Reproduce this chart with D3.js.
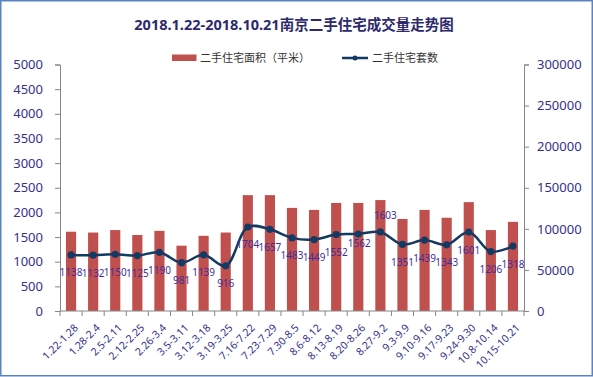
<!DOCTYPE html>
<html>
<head>
<meta charset="utf-8">
<script src="https://cdn.jsdelivr.net/npm/d3@7/dist/d3.min.js"></script>
<style>
  body { margin: 0; background: #fff; }
  svg { display: block; }
  text { font-family: "Noto Sans", "Noto Sans CJK SC", sans-serif; }
</style>
</head>
<body>
<script>
// weekly periods
var weeks = ["1.22-1.28", "1.28-2.4", "2.5-2.11", "2.12-2.25", "2.26-3.4", "3.5-3.11",
             "3.12-3.18", "3.19-3.25", "7.16-7.22", "7.23-7.29", "7.30-8.5", "8.6-8.12",
             "8.13-8.19", "8.20-8.26", "8.27-9.2", "9.3-9.9", "9.10-9.16", "9.17-9.23",
             "9.24-9.30", "10.8-10.14", "10.15-10.21"];

// 二手住宅面积（平米） - right axis
var area = [96500, 95500, 98500, 92500, 97500, 79500, 91500, 95500, 141000, 141000, 125500,
            123000, 131500, 131500, 135000, 112000, 123000, 113500, 132500, 98500, 108500];

// 二手住宅套数 - left axis, from the data labels
var units = [1138, 1132, 1150, 1125, 1190, 981, 1139, 916, 1704, 1657, 1483,
             1449, 1552, 1562, 1603, 1351, 1439, 1343, 1601, 1206, 1318];

var leftTicks = [0, 500, 1000, 1500, 2000, 2500, 3000, 3500, 4000, 4500, 5000];
var rightTicks = [0, 50000, 100000, 150000, 200000, 250000, 300000];

var title = "2018.1.22-2018.10.21南京二手住宅成交量走势图";
var legendNames = ["二手住宅面积（平米）", "二手住宅套数"];

// a couple of labels Excel put somewhere else
var labelNudge = {"8.20-8.26": {dx: 1, dy: -8}, "8.27-9.2": {dx: 5, dy: -34}};

var W = 593, H = 377;
var margin = {top: 64.5, right: 69, bottom: 66, left: 60};
var width = W - margin.left - margin.right,
    height = H - margin.top - margin.bottom;

var barColor = "#c0504d", lineColor = "#123a63", textColor = "#33318c", labelColor = "#3f2f9e";

var root = d3.select("body").append("svg")
    .attr("width", W)
    .attr("height", H);

root.append("rect")
    .attr("x", 0.75).attr("y", 0.75)
    .attr("width", W - 1.5).attr("height", H - 2)
    .attr("fill", "#fff")
    .attr("stroke", "#5b83c2")
    .attr("stroke-width", 1.5);

root.append("text")
    .attr("x", 294).attr("y", 30)
    .attr("text-anchor", "middle")
    .attr("font-size", "14.5px")
    .attr("font-weight", "bold")
    .attr("fill", "#2c2a6c")
    .text(title);

// legend
var lg = root.append("g");
lg.append("rect").attr("x", 172).attr("y", 54.5).attr("width", 24.5).attr("height", 6.5).attr("fill", barColor);
lg.append("text").attr("x", 200).attr("y", 61.5).attr("font-size", "11px").attr("fill", "#333")
    .text(legendNames[0]);
lg.append("line").attr("x1", 342).attr("x2", 368).attr("y1", 58).attr("y2", 58)
    .attr("stroke", lineColor).attr("stroke-width", 2.5);
lg.append("circle").attr("cx", 355).attr("cy", 58).attr("r", 2.5).attr("fill", lineColor);
lg.append("text").attr("x", 372).attr("y", 61.5).attr("font-size", "11px").attr("fill", "#333")
    .text(legendNames[1]);

var svg = root.append("g")
    .attr("transform", "translate(" + margin.left + "," + margin.top + ")");

var xScale = d3.scaleBand().domain(weeks).range([0, width]);
var yLeft = d3.scaleLinear().domain([0, 5000]).range([height, 0]);
var yRight = d3.scaleLinear().domain([0, 300000]).range([height, 0]);

var barW = xScale.bandwidth() * 0.46;

svg.selectAll("rect.bar")
    .data(area)
    .enter()
    .append("rect")
        .attr("class", "bar")
        .attr("x", function (d, i) { return xScale(weeks[i]) + (xScale.bandwidth() - barW) / 2; })
        .attr("y", function (d) { return yRight(d); })
        .attr("width", barW)
        .attr("height", function (d) { return height - yRight(d); })
        .attr("fill", barColor);

// axes
var axisColor = "#868686";

var gx = svg.append("g")
    .attr("transform", "translate(0," + height + ")");
gx.append("line").attr("x1", 0).attr("x2", width).attr("stroke", axisColor);
gx.selectAll("line.tk")
    .data(d3.range(weeks.length + 1))
    .enter().append("line")
    .attr("class", "tk")
    .attr("x1", function (i) { return i * xScale.step(); })
    .attr("x2", function (i) { return i * xScale.step(); })
    .attr("y1", 0).attr("y2", 5)
    .attr("stroke", axisColor);
gx.selectAll("text")
    .data(weeks)
    .enter().append("text")
    .attr("transform", function (d) {
        return "translate(" + (xScale(d) + xScale.bandwidth() / 2 + 5) + ",15) rotate(-45)";
    })
    .attr("text-anchor", "end")
    .attr("dy", "0.35em")
    .attr("font-size", "10.5px")
    .attr("fill", textColor)
    .text(function (d) { return d; });

var gl = svg.append("g")
    .call(d3.axisLeft(yLeft).tickValues(leftTicks).tickFormat(d3.format("d")).tickSize(5).tickPadding(12));
var gr = svg.append("g")
    .attr("transform", "translate(" + width + ",0)")
    .call(d3.axisRight(yRight).tickValues(rightTicks).tickFormat(d3.format("d")).tickSize(5).tickPadding(8));

[gl, gr].forEach(function (g) {
    g.select(".domain").attr("stroke", axisColor);
    g.selectAll(".tick line").attr("stroke", axisColor);
    g.selectAll(".tick text")
        .attr("fill", textColor)
        .attr("font-size", "13px")
        .attr("font-family", "Noto Sans, sans-serif");
});

// line on the left axis
var cx = function (i) { return xScale(weeks[i]) + xScale.bandwidth() / 2; };

var line = d3.line()
    .x(function (d, i) { return cx(i); })
    .y(function (d) { return yLeft(d); })
    .curve(d3.curveCatmullRom.alpha(0.5));

svg.append("path")
    .datum(units)
    .attr("d", line)
    .attr("fill", "none")
    .attr("stroke", lineColor)
    .attr("stroke-width", 2.5);

svg.selectAll("circle.pt")
    .data(units)
    .enter().append("circle")
    .attr("class", "pt")
    .attr("cx", function (d, i) { return cx(i); })
    .attr("cy", function (d) { return yLeft(d); })
    .attr("r", 3.6)
    .attr("fill", lineColor);

svg.selectAll("text.lbl")
    .data(units)
    .enter().append("text")
    .attr("class", "lbl")
    .attr("x", function (d, i) { var n = labelNudge[weeks[i]]; return cx(i) + (n ? n.dx : 0); })
    .attr("y", function (d, i) { var n = labelNudge[weeks[i]]; return yLeft(d) + 18 + (n ? n.dy : 0); })
    .attr("dy", "0.35em")
    .attr("text-anchor", "middle")
    .attr("font-size", "10px")
    .attr("fill", labelColor)
    .text(function (d) { return d; });
</script>
</body>
</html>
